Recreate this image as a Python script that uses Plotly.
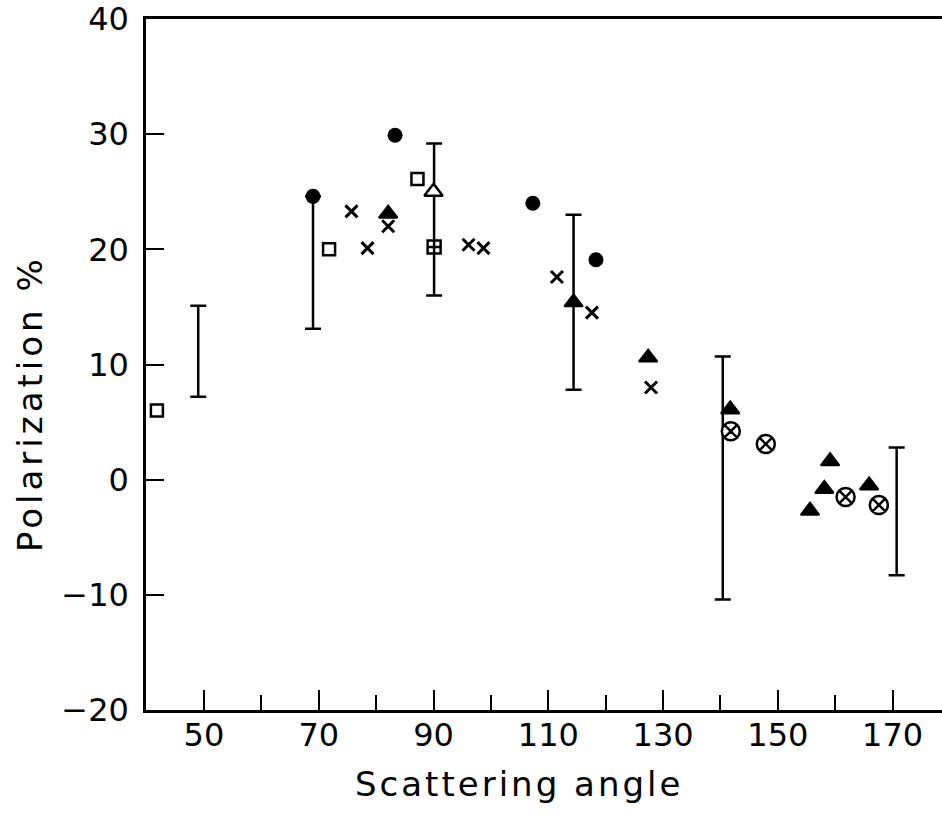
import plotly.graph_objects as go

# Polarization (%) versus scattering angle (degrees), grouped by symbol
sq_x = [41.8, 71.8, 87.2]
sq_y = [6.0, 20.0, 26.1]

sqplus_x = [90.1]
sqplus_y = [20.2]

otri_x = [90.0]
otri_y = [25.0]

dot_x = [69.0, 83.3, 107.3, 118.3]
dot_y = [24.6, 29.9, 24.0, 19.1]

cross_x = [75.7, 78.5, 82.1, 96.1, 98.7, 111.5, 117.6, 127.9]
cross_y = [23.3, 20.1, 22.0, 20.4, 20.1, 17.6, 14.5, 8.0]

ftri_x = [82.1, 114.4, 127.4, 141.7, 155.6, 158.1, 159.1, 165.9]
ftri_y = [23.1, 15.4, 10.6, 6.1, -2.7, -0.8, 1.6, -0.5]

cx_x = [141.8, 147.9, 161.8, 167.6]
cx_y = [4.2, 3.1, -1.5, -2.2]

# Representative error ranges (low / high) at selected angles
err_x = [49.0, 69.0, 90.1, 114.4, 140.4, 170.7]
err_lo = [7.2, 13.1, 16.0, 7.8, -10.4, -8.3]
err_hi = [15.1, 24.6, 29.2, 23.0, 10.7, 2.8]

x_ticks = [50, 70, 90, 110, 130, 150, 170]
x_minor = [60, 80, 100, 120, 140, 160]
y_ticks = [-20, -10, 0, 10, 20, 30, 40]

FONT = "DejaVu Sans"
INK = "black"


def spaced(text, px):
    return f'<span style="letter-spacing:{px}px">{text}</span>'


fig = go.Figure()

err_mid = [(lo + hi) / 2 for lo, hi in zip(err_lo, err_hi)]
err_half = [(hi - lo) / 2 for lo, hi in zip(err_lo, err_hi)]
fig.add_trace(go.Scatter(
    x=err_x, y=err_mid, mode="markers",
    marker=dict(size=1, color="rgba(0,0,0,0)"),
    error_y=dict(type="data", array=err_half, visible=True,
                 color=INK, thickness=2.5, width=8),
    hoverinfo="skip", showlegend=False,
))

fig.add_trace(go.Scatter(
    x=sq_x, y=sq_y, mode="markers",
    marker=dict(symbol="square", size=12, color="white",
                line=dict(color=INK, width=2.5)),
    showlegend=False,
))
fig.add_trace(go.Scatter(
    x=sqplus_x, y=sqplus_y, mode="markers",
    marker=dict(symbol="square-cross", size=13, color="white",
                line=dict(color=INK, width=2.5)),
    showlegend=False,
))
fig.add_trace(go.Scatter(
    x=otri_x, y=otri_y, mode="markers",
    marker=dict(symbol="triangle-up", size=16, color="white",
                line=dict(color=INK, width=2.5)),
    showlegend=False,
))
fig.add_trace(go.Scatter(
    x=dot_x, y=dot_y, mode="markers",
    marker=dict(symbol="circle", size=15, color=INK),
    showlegend=False,
))
fig.add_trace(go.Scatter(
    x=cross_x, y=cross_y, mode="markers",
    marker=dict(symbol="x-thin", size=12, color=INK,
                line=dict(color=INK, width=3)),
    showlegend=False,
))
fig.add_trace(go.Scatter(
    x=ftri_x, y=ftri_y, mode="markers",
    marker=dict(symbol="triangle-up", size=16, color=INK,
                line=dict(color=INK, width=2)),
    showlegend=False,
))
fig.add_trace(go.Scatter(
    x=cx_x, y=cx_y, mode="markers",
    marker=dict(symbol="circle-x", size=18, color="white",
                line=dict(color=INK, width=2.5)),
    showlegend=False,
))

fig.update_layout(
    width=942, height=824,
    margin=dict(l=146, r=0, t=19, b=114),
    paper_bgcolor="white", plot_bgcolor="white",
    font=dict(family=FONT, size=32, color=INK),
    xaxis=dict(
        range=[39.9, 178.6], showgrid=False, zeroline=False,
        showline=True, linecolor=INK, linewidth=2.5, mirror=True,
        tickmode="array", tickvals=x_ticks,
        ticktext=[str(v) for v in x_ticks],
        ticks="inside", ticklen=20, tickwidth=2, tickcolor=INK,
        ticklabelstandoff=-5,
        minor=dict(tickmode="array", tickvals=x_minor, ticks="inside",
                   ticklen=15, tickwidth=2, tickcolor=INK, showgrid=False),
        tickfont=dict(family=FONT, size=32, color=INK),
    ),
    yaxis=dict(
        range=[-20, 40], showgrid=False, zeroline=False,
        showline=True, linecolor=INK, linewidth=2.5, mirror=False,
        tickmode="array", tickvals=y_ticks,
        ticktext=[str(v).replace("-", "\u2212") for v in y_ticks],
        ticks="inside", ticklen=18, tickwidth=2, tickcolor=INK,
        ticklabelstandoff=8,
        tickfont=dict(family=FONT, size=32, color=INK),
    ),
    annotations=[
        dict(text=spaced("Scattering angle", 3), xref="paper", yref="paper",
             x=(519 - 146) / 796, y=-(784 - 710) / 691,
             xanchor="center", yanchor="middle", showarrow=False,
             font=dict(family=FONT, size=34, color=INK)),
        dict(text=spaced("Polarization %", 4), xref="paper", yref="paper",
             x=-(146 - 30) / 796, y=(710 - 404) / 691, textangle=-90,
             xanchor="center", yanchor="middle", showarrow=False,
             font=dict(family=FONT, size=34, color=INK)),
    ],
)

fig.write_html("out.html")
